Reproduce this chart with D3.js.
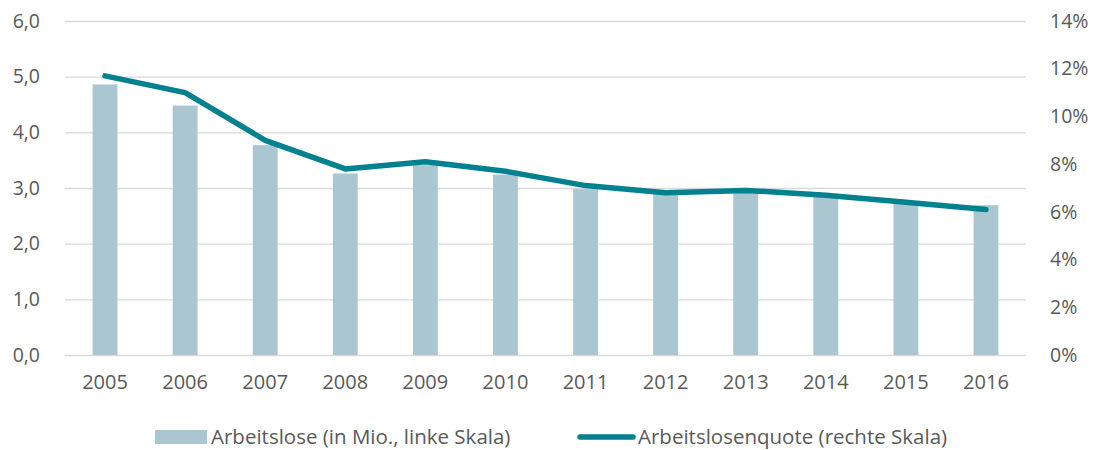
<!DOCTYPE html>
<html>
<head>
<meta charset="utf-8">
<script src="https://cdn.jsdelivr.net/npm/d3@7"></script>
<style>
  body { margin: 0; background: #fff; }
  svg text { font-family: 'Open Sans', sans-serif; fill: #595959; }
</style>
</head>
<body>
<svg id="chart" width="1094" height="450"></svg>
<script>
const years = ['2005', '2006', '2007', '2008', '2009', '2010', '2011', '2012', '2013', '2014', '2015', '2016']
const arbeitslose = [4.86, 4.48, 3.77, 3.26, 3.41, 3.24, 2.98, 2.90, 2.95, 2.87, 2.76, 2.69]
const quote = [11.7, 11.0, 9.0, 7.8, 8.1, 7.7, 7.1, 6.8, 6.9, 6.7, 6.4, 6.1]
const leftTicks = [0, 1, 2, 3, 4, 5, 6]
const rightTicks = [0, 2, 4, 6, 8, 10, 12, 14]
const legendLabels = ['Arbeitslose (in Mio., linke Skala)', 'Arbeitslosenquote (rechte Skala)']

const barColor = '#a9c6d1'
const lineColor = '#00818f'

const margin = { top: 21, right: 68, bottom: 95, left: 65 }
const width = 1094
const height = 450

const de = d3.formatLocale({ decimal: ',', thousands: '.', grouping: [3], currency: ['', ' €'] })
const fmtLeft = de.format('.1f')

const svg = d3.select('#chart')

const x = d3.scaleBand().domain(years).range([margin.left, width - margin.right]).paddingInner(0.69).paddingOuter(0.345)
const xPoint = (d) => x(d) + x.bandwidth() / 2
const yLeft = d3.scaleLinear().domain([0, 6]).range([height - margin.bottom, margin.top])
const yRight = d3.scaleLinear().domain([0, 14]).range([height - margin.bottom, margin.top])

// gridlines
svg.append('g')
  .attr('transform', `translate(${margin.left},0)`)
  .call(d3.axisLeft(yLeft).tickValues(leftTicks).tickSize(-(width - margin.left - margin.right)).tickFormat(''))
  .call((g) => g.select('.domain').remove())
  .call((g) => g.selectAll('line').attr('stroke', '#d9d9d9').attr('stroke-width', 1.3))

// left axis labels
svg.append('g')
  .attr('transform', `translate(${margin.left - 22},0)`)
  .call(d3.axisLeft(yLeft).tickValues(leftTicks).tickSize(0).tickFormat(fmtLeft))
  .call((g) => g.select('.domain').remove())
  .call((g) => g.selectAll('text').attr('font-size', 19.5).attr('fill', '#595959').attr('font-family', 'Open Sans, sans-serif'))

// right axis labels
svg.append('g')
  .attr('transform', `translate(${width - margin.right + 21},0)`)
  .call(d3.axisRight(yRight).tickValues(rightTicks).tickSize(0).tickFormat((d) => d + '%'))
  .call((g) => g.select('.domain').remove())
  .call((g) => g.selectAll('text').attr('font-size', 19.5).attr('fill', '#595959').attr('font-family', 'Open Sans, sans-serif'))

// bars
svg.append('g')
  .selectAll('rect')
  .data(arbeitslose)
  .enter()
  .append('rect')
  .attr('x', (d, i) => x(years[i]))
  .attr('y', (d) => yLeft(d))
  .attr('width', x.bandwidth())
  .attr('height', (d) => yLeft(0) - yLeft(d))
  .attr('fill', barColor)

// x axis labels
svg.append('g')
  .attr('transform', `translate(0,${height - margin.bottom + 17})`)
  .call(d3.axisBottom(x).tickSize(0))
  .call((g) => g.select('.domain').remove())
  .call((g) => g.selectAll('text').attr('font-size', 20).attr('fill', '#595959').attr('font-family', 'Open Sans, sans-serif'))

// line
const line = d3.line()
  .x((d, i) => xPoint(years[i]))
  .y((d) => yRight(d))

svg.append('path')
  .datum(quote)
  .attr('d', line)
  .attr('fill', 'none')
  .attr('stroke', lineColor)
  .attr('stroke-width', 5.5)
  .attr('stroke-linecap', 'round')
  .attr('stroke-linejoin', 'round')

// legend
const legend = svg.append('g').attr('class', 'legend')
const lg1 = legend.append('g').attr('transform', 'translate(155,437)')
lg1.append('rect').attr('x', 0).attr('y', -7).attr('width', 52).attr('height', 14).attr('fill', barColor)
lg1.append('text').attr('x', 56).attr('y', 0).attr('dy', '0.33em').attr('font-size', 20.5).text(legendLabels[0])

const lg2 = legend.append('g').attr('transform', 'translate(578,437)')
lg2.append('line').attr('x1', 2).attr('x2', 55).attr('y1', 0).attr('y2', 0)
  .attr('stroke', lineColor).attr('stroke-width', 5.5).attr('stroke-linecap', 'round')
lg2.append('text').attr('x', 60).attr('y', 0).attr('dy', '0.33em').attr('font-size', 20.5).text(legendLabels[1])
</script>
</body>
</html>
